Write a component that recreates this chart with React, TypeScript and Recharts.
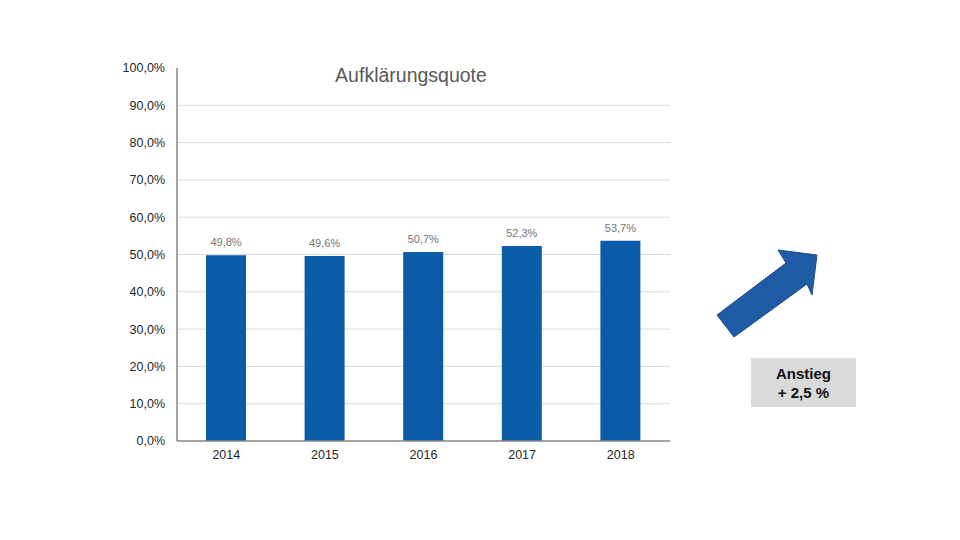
import { BarChart, Bar, XAxis, YAxis, CartesianGrid, LabelList } from 'recharts';

const years = ['2014', '2015', '2016', '2017', '2018'];
const quote = [49.8, 49.6, 50.7, 52.3, 53.7];
const yTicks = [0, 10, 20, 30, 40, 50, 60, 70, 80, 90, 100];

const data = years.map((year, i) => ({ year, quote: quote[i] }));

const pct = (v: number) => `${v.toFixed(1).replace('.', ',')}%`;

const font = '"Liberation Sans", Arial, sans-serif';

export default function App() {
  return (
    <div style={{ position: 'absolute', left: 0, top: 0, width: 960, height: 540, background: '#fff', fontFamily: font }}>
      <BarChart
        width={960}
        height={540}
        data={data}
        margin={{ top: 68, right: 290, bottom: 69, left: 117 }}
      >
        <CartesianGrid vertical={false} stroke="#d9d9d9" strokeWidth={1} horizontalValues={[10, 20, 30, 40, 50, 60, 70, 80, 90]} />
        <XAxis
          dataKey="year"
          height={30}
          axisLine={{ stroke: '#868686', strokeWidth: 1.5 }}
          tickLine={false}
          tickSize={0}
          tickMargin={9}
          tick={{ fill: '#262626', fontSize: 12.5, fontFamily: font }}
        />
        <YAxis
          width={60}
          domain={[0, 100]}
          ticks={yTicks}
          tickFormatter={pct}
          axisLine={{ stroke: '#868686', strokeWidth: 1.5 }}
          tickLine={false}
          tickSize={0}
          tickMargin={12}
          tick={{ fill: '#262626', fontSize: 12.5, fontFamily: font }}
        />
        <Bar dataKey="quote" fill="#0a5ca8" barSize={40} isAnimationActive={false}>
          <LabelList
            dataKey="quote"
            position="top"
            offset={9}
            formatter={(v: any) => pct(Number(v))}
            style={{ fill: '#737373', fontSize: 11, fontFamily: font }}
          />
        </Bar>
      </BarChart>

      <div style={{ position: 'absolute', left: 306, top: 64, width: 210, textAlign: 'center', fontSize: 19.5, color: '#595959' }}>
        Aufklärungsquote
      </div>

      <svg width={960} height={540} style={{ position: 'absolute', left: 0, top: 0, pointerEvents: 'none' }}>
        <polygon
          points="717,315 786,263 778,250 817,255 812,295 807,284 734,337"
          fill="#1f5ba6"
          stroke="#1a4a85"
          strokeWidth={1}
        />
      </svg>

      <div
        style={{
          position: 'absolute',
          left: 751,
          top: 358,
          width: 105,
          height: 49,
          background: '#d9d9d9',
          display: 'flex',
          flexDirection: 'column',
          alignItems: 'center',
          justifyContent: 'center',
          fontWeight: 'bold',
          fontSize: 15,
          lineHeight: '19px',
          color: '#111',
        }}
      >
        <div>Anstieg</div>
        <div>+ 2,5 %</div>
      </div>
    </div>
  );
}
